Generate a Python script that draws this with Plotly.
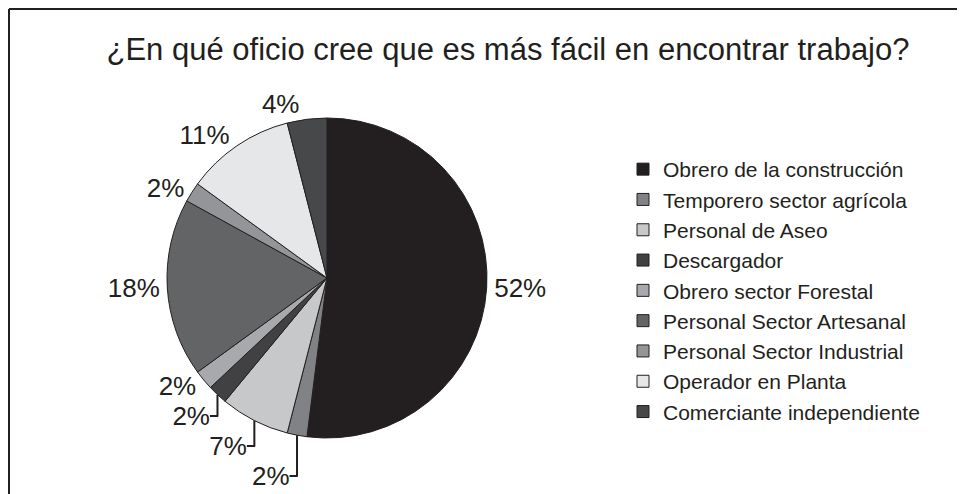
import plotly.graph_objects as go

# data
oficios = ['Obrero de la construcción', 'Temporero sector agrícola', 'Personal de Aseo',
           'Descargador', 'Obrero sector Forestal', 'Personal Sector Artesanal',
           'Personal Sector Industrial', 'Operador en Planta', 'Comerciante independiente']
porcentajes = [52, 2, 7, 2, 2, 18, 2, 11, 4]
colores = ['#231f20', '#808285', '#c7c8ca', '#414042', '#a7a9ac',
           '#636466', '#939598', '#e6e7e8', '#46484a']

# page is drawn 8px in from the window edge (body margin)
OFF = 8
W, H = 965 - OFF, 494 - OFF


def px(x):
    return (x - OFF) / W


def py(y):
    return 1 - (y - OFF) / H


# pie centre / radius in page pixels
cx, cy, r = 327, 278, 160

fig = go.Figure(go.Pie(
    labels=oficios, values=porcentajes,
    sort=False, direction='clockwise', rotation=0,
    marker=dict(colors=colores, line=dict(color='#231f20', width=1)),
    texttemplate='%{value}%', textposition='outside', automargin=False,
    textfont=dict(size=26, color='#231f20'),
    domain=dict(x=[px(cx - r), px(cx + r)], y=[py(cy + r), py(cy - r)]),
    hoverinfo='label+percent'
))

fig.update_layout(
    width=W, height=H,
    margin=dict(l=0, r=0, t=0, b=0, autoexpand=False),
    paper_bgcolor='white', plot_bgcolor='white',
    font=dict(family='Liberation Sans, Arial, sans-serif', color='#231f20'),
    title=dict(text='¿En qué oficio cree que es más fácil en encontrar trabajo?',
               x=px(508), xanchor='center', y=py(49), yanchor='middle',
               font=dict(size=31, color='#231f20')),
    legend=dict(x=px(623), xanchor='left', y=py(149), yanchor='top',
                font=dict(size=21, color='#231f20'), bgcolor='rgba(0,0,0,0)'),
    shapes=[
        dict(type='line', xref='paper', yref='paper', x0=px(9), x1=1, y0=py(9), y1=py(9),
             line=dict(color='#231f20', width=2)),
        dict(type='line', xref='paper', yref='paper', x0=px(9), x1=px(9), y0=py(9), y1=0,
             line=dict(color='#231f20', width=2)),
    ]
)

fig.write_html("out.html")
